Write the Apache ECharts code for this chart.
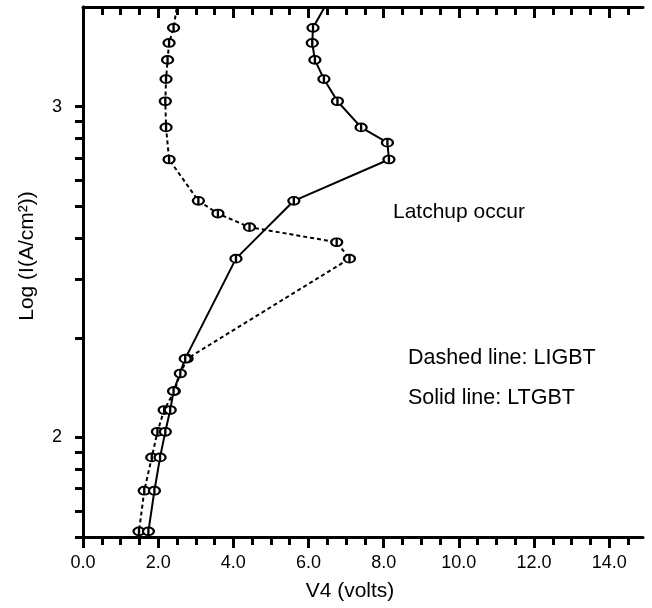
<!DOCTYPE html>
<html>
<head>
<meta charset="utf-8">
<script src="https://cdn.jsdelivr.net/npm/echarts@6/dist/echarts.min.js"></script>
<style>
  html, body { margin: 0; padding: 0; background: #fff; }
  #main { width: 652px; height: 608px; }
</style>
</head>
<body>
<div id="main"></div>
<script>
// V4 (volts) vs current density I (A/cm2)
var ligbtVolt = [2.52, 2.41, 2.29, 2.25, 2.21, 2.19, 2.21, 2.29, 3.07, 3.59, 4.43, 6.75, 7.09, 2.77, 2.59, 2.43, 2.16, 1.98, 1.83, 1.63, 1.49];
var ligbtCurrent = [2076, 1730, 1557, 1384, 1211, 1038, 865, 692, 519, 475, 432, 389, 347, 173, 156, 138, 121, 104, 87, 69, 52];
var ltgbtVolt = [6.51, 6.12, 6.10, 6.17, 6.41, 6.77, 7.40, 8.10, 8.14, 5.61, 4.07, 2.72, 2.41, 2.32, 2.19, 2.05, 1.90, 1.74];
var ltgbtCurrent = [2076, 1730, 1557, 1384, 1211, 1038, 865, 778, 692, 519, 347, 173, 138, 121, 104, 87, 69, 52];

var xMajor = [0, 2, 4, 6, 8, 10, 12, 14];
var xMinor = [0.5, 1, 1.5, 2.5, 3, 3.5, 4.5, 5, 5.5, 6.5, 7, 7.5, 8.5, 9, 9.5, 10.5, 11, 11.5, 12.5, 13, 13.5, 14.5];
var yLabels = [2, 3];
var yTickCurrent = [50, 60, 70, 80, 90, 100, 200, 300, 400, 500, 600, 700, 800, 900, 1000];

function toPairs(xs, cur) {
  return xs.map(function (v, i) { return [v, Math.log10(cur[i])]; });
}

var yTicks = yTickCurrent.map(function (v) { return Math.log10(v); });
var yMin = Math.log10(50);
var yMax = Math.log10(2000);

var marker = 'path://M0,5 A6,5 0 1,1 12,5 A6,5 0 1,1 0,5 Z M6,0 L6,10';
var font = 'Liberation Sans, Arial, sans-serif';

var chart = echarts.init(document.getElementById('main'));

function xAx(pos, vals, len, inside, main) {
  return {
    type: 'value', position: pos, min: 0, max: 14.9,
    axisLine: { show: main, lineStyle: { color: '#000', width: 3 } },
    axisTick: { show: true, inside: inside, length: len, customValues: vals, lineStyle: { color: '#000', width: 3 } },
    axisLabel: pos === 'bottom' && main ? {
      customValues: xMajor, margin: 17, color: '#000', fontSize: 18, fontFamily: font,
      formatter: function (v) { return v.toFixed(1); }
    } : { show: false },
    name: pos === 'bottom' && main ? 'V4 (volts)' : '',
    nameLocation: 'middle', nameGap: 44,
    nameTextStyle: { color: '#000', fontSize: 21, fontFamily: font, padding: [0, 26, 0, 0] },
    splitLine: { show: false }
  };
}

var option = {
  animation: false,
  backgroundColor: '#fff',
  grid: { left: 83, right: 9, top: 7, bottom: 71 },
  xAxis: [
    xAx('bottom', xMajor, 11, false, true),
    xAx('bottom', xMinor, 8, false, false),
    xAx('top', xMajor, 11, true, true),
    xAx('top', xMinor, 8, true, false)
  ],
  yAxis: [
    {
      type: 'value', position: 'left', min: yMin, max: yMax,
      axisLine: { show: true, lineStyle: { color: '#000', width: 3 } },
      axisTick: { show: true, length: 8, customValues: yTicks, lineStyle: { color: '#000', width: 3 } },
      axisLabel: { customValues: yLabels, margin: 21, color: '#000', fontSize: 18, fontFamily: font },
      name: 'Log (I(A/cm²))', nameLocation: 'middle', nameGap: 45,
      nameTextStyle: { color: '#000', fontSize: 21, fontFamily: font, padding: [0, 0, 0, 32] },
      splitLine: { show: false }
    },
    {
      type: 'value', position: 'right', min: yMin, max: yMax,
      axisLine: { show: true, lineStyle: { color: '#000', width: 3 } },
      axisTick: { show: true, inside: true, length: 8, customValues: yTicks, lineStyle: { color: '#000', width: 3 } },
      axisLabel: { show: false },
      splitLine: { show: false }
    }
  ],
  graphic: [
    { type: 'text', left: 393, top: 202, style: { text: 'Latchup occur', fill: '#000', font: '21px ' + font } },
    { type: 'text', left: 408, top: 347, style: { text: 'Dashed line: LIGBT', fill: '#000', font: '21.5px ' + font } },
    { type: 'text', left: 408, top: 387, style: { text: 'Solid line: LTGBT', fill: '#000', font: '21.5px ' + font } }
  ],
  series: [
    {
      name: 'LIGBT', type: 'line', data: toPairs(ligbtVolt, ligbtCurrent),
      symbol: marker, symbolSize: [11, 8], clip: true,
      lineStyle: { color: '#000', width: 2, type: [4, 3] },
      itemStyle: { color: '#fff', borderColor: '#000', borderWidth: 2 }
    },
    {
      name: 'LTGBT', type: 'line', data: toPairs(ltgbtVolt, ltgbtCurrent),
      symbol: marker, symbolSize: [11, 8], clip: true,
      lineStyle: { color: '#000', width: 2 },
      itemStyle: { color: '#fff', borderColor: '#000', borderWidth: 2 }
    }
  ]
};

chart.setOption(option);
</script>
</body>
</html>
